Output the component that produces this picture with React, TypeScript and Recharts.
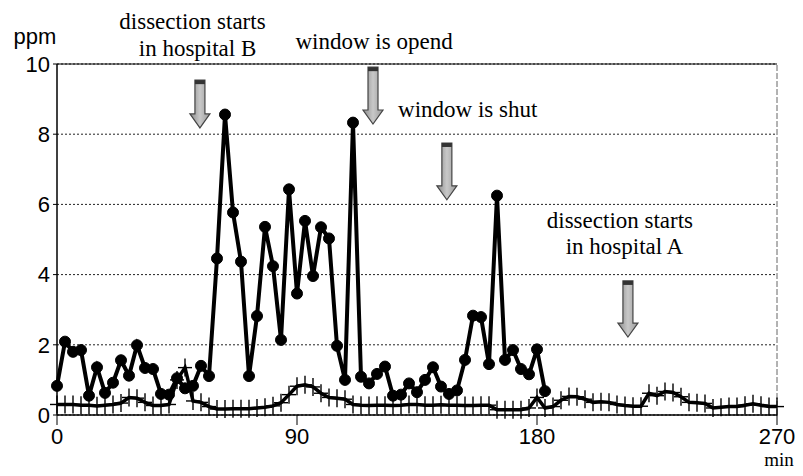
import React from "react";
import {
  CartesianGrid,
  Line,
  LineChart,
  ReferenceDot,
  ReferenceLine,
  XAxis,
  YAxis,
} from "recharts";

// tiempo de medicion (min)
const minutos = [
  0, 3, 6, 9, 12, 15, 18, 21, 24, 27, 30, 33, 36, 39, 42, 45, 48, 51, 54, 57,
  60, 63, 66, 69, 72, 75, 78, 81, 84, 87, 90, 93, 96, 99, 102, 105, 108, 111,
  114, 117, 120, 123, 126, 129, 132, 135, 138, 141, 144, 147, 150, 153, 156,
  159, 162, 165, 168, 171, 174, 177, 180, 183, 186, 189, 192, 195, 198, 201,
  204, 207, 210, 213, 216, 219, 222, 225, 228, 231, 234, 237, 240, 243, 246,
  249, 252, 255, 258, 261, 264, 267, 270,
];

// serie con circulos (hasta 183 min)
const serieCirculos = [
  0.83, 2.09, 1.8, 1.85, 0.55, 1.36, 0.63, 0.92, 1.56, 1.12, 1.99, 1.34, 1.31,
  0.6, 0.58, 1.05, 0.76, 0.83, 1.4, 1.11, 4.46, 8.56, 5.77, 4.37, 1.11, 2.82,
  5.36, 4.24, 2.14, 6.43, 3.46, 5.53, 3.96, 5.35, 5.03, 1.97, 1.0, 8.33, 1.09,
  0.9, 1.17, 1.38, 0.55, 0.58, 0.9, 0.65, 1.0, 1.36, 0.81, 0.6, 0.7, 1.57,
  2.83, 2.79, 1.45, 6.25, 1.57, 1.85, 1.31, 1.16, 1.87, 0.68,
];

// serie con cruces (0 - 270 min)
const serieCruces = [
  0.3, 0.3, 0.3, 0.28, 0.28, 0.26, 0.28, 0.3, 0.34, 0.5, 0.48, 0.36, 0.27,
  0.27, 0.3, 1.0, 1.35, 0.4, 0.36, 0.24, 0.17, 0.17, 0.18, 0.18, 0.18, 0.2,
  0.22, 0.26, 0.35, 0.58, 0.82, 0.86, 0.8, 0.62, 0.5, 0.48, 0.45, 0.3, 0.28,
  0.27, 0.28, 0.28, 0.27, 0.28, 0.3, 0.3, 0.28, 0.28, 0.29, 0.28, 0.28, 0.27,
  0.27, 0.28, 0.28, 0.15, 0.15, 0.15, 0.15, 0.2, 0.5, 0.2, 0.24, 0.42, 0.53,
  0.52, 0.45, 0.36, 0.38, 0.36, 0.3, 0.27, 0.25, 0.25, 0.62, 0.55, 0.67, 0.64,
  0.52, 0.36, 0.35, 0.33, 0.2, 0.22, 0.24, 0.24, 0.28, 0.32, 0.28, 0.24, 0.24,
];

const ticksX = [0, 90, 180, 270];
const ticksY = [0, 2, 4, 6, 8, 10];

// textos de anotacion (en unidades del grafico)
const notas = [
  { x: 50.8, y: 11.0, texto: "dissection starts", anchor: "middle" },
  { x: 52.7, y: 10.23, texto: "in hospital B", anchor: "middle" },
  { x: 118.9, y: 10.43, texto: "window is opend", anchor: "middle" },
  { x: 127.9, y: 8.49, texto: "window is shut", anchor: "start" },
  { x: 211.1, y: 5.32, texto: "dissection starts", anchor: "middle" },
  { x: 212.8, y: 4.6, texto: "in hospital A", anchor: "middle" },
];

// flechas: desde arriba hasta la punta
const flechas = [
  { x: 53.6, arriba: 9.54, punta: 8.18 },
  { x: 118.5, arriba: 9.91, punta: 8.29 },
  { x: 146.2, arriba: 7.75, punta: 6.13 },
  { x: 214.1, arriba: 3.82, punta: 2.22 },
];

const datos = minutos.map((t, i) => ({
  t,
  circulos: i < serieCirculos.length ? serieCirculos[i] : undefined,
  cruces: serieCruces[i],
}));

const sans = "'Liberation Sans', Arial, sans-serif";
const serif = "'Liberation Serif', 'Times New Roman', serif";

const Cruz = (props: any) => {
  const { cx, cy, index } = props;
  if (cx == null || cy == null) return null;
  return (
    <g key={`cruz-${index}`}>
      <line x1={cx} y1={cy - 9} x2={cx} y2={cy + 9} stroke="#000" strokeWidth={1.4} />
      <line x1={cx - 7} y1={cy} x2={cx + 7} y2={cy} stroke="#000" strokeWidth={1.4} />
    </g>
  );
};

const Flecha = (props: any) => {
  const { x1, y1, y2 } = props;
  if (x1 == null) return null;
  const top = Math.min(y1, y2);
  const tip = Math.max(y1, y2);
  const cx = x1;
  const pts = [
    [cx - 5, top],
    [cx + 5, top],
    [cx + 5, tip - 14],
    [cx + 10, tip - 14],
    [cx, tip],
    [cx - 10, tip - 14],
    [cx - 5, tip - 14],
  ]
    .map((p) => p.join(","))
    .join(" ");
  return (
    <g>
      <polygon points={pts} fill="url(#grisFlecha)" stroke="#444" strokeWidth={1.2} />
      <rect x={cx - 5} y={top} width={10} height={4} fill="#333" />
    </g>
  );
};

const Nota = (texto: string, anchor: string) => (props: any) => {
  const { cx, cy } = props;
  if (cx == null) return null;
  return (
    <text x={cx} y={cy} textAnchor={anchor} fontFamily={serif} fontSize={23} fill="#000">
      {texto}
    </text>
  );
};

export default function App() {
  return (
    <div style={{ width: 795, height: 468 }}>
      <LineChart
        width={795}
        height={468}
        data={datos}
        margin={{ top: 56, right: 26, left: 0, bottom: 21 }}
        style={{ overflow: "visible" }}
      >
        <defs>
          <linearGradient id="grisFlecha" x1="0" y1="0" x2="1" y2="0">
            <stop offset="0%" stopColor="#8a8a8a" />
            <stop offset="50%" stopColor="#c8c8c8" />
            <stop offset="100%" stopColor="#9a9a9a" />
          </linearGradient>
        </defs>
        <CartesianGrid vertical={false} stroke="#222" strokeDasharray="2 2" />
        <XAxis
          dataKey="t"
          type="number"
          domain={[0, 270]}
          ticks={ticksX}
          height={40}
          tickSize={10}
          tickMargin={3}
          axisLine={{ stroke: "#000", strokeWidth: 1.5 }}
          tickLine={{ stroke: "#000" }}
          tick={{ fill: "#000", fontSize: 22, fontFamily: sans }}
          label={{
            value: "min",
            content: ({ viewBox }: any) => (
              <text
                x={viewBox.x + viewBox.width + 2}
                y={viewBox.y + 51}
                textAnchor="middle"
                fontFamily={serif}
                fontSize={19}
                fill="#000"
              >
                min
              </text>
            ),
          }}
        />
        <YAxis
          type="number"
          domain={[0, 10]}
          ticks={ticksY}
          width={49}
          tickSize={4}
          tickMargin={3}
          axisLine={{ stroke: "#000", strokeWidth: 1.5 }}
          tickLine={{ stroke: "#000" }}
          tick={{ fill: "#000", fontSize: 22, fontFamily: sans }}
          label={{
            value: "ppm",
            content: ({ viewBox }: any) => (
              <text
                x={viewBox.x + 27}
                y={viewBox.y - 20}
                textAnchor="middle"
                fontFamily={sans}
                fontSize={22}
                fill="#000"
              >
                ppm
              </text>
            ),
          }}
        />
        <ReferenceLine y={10} stroke="#000" strokeWidth={1.2} />
        <ReferenceLine x={270} stroke="#666" strokeDasharray="6 2" />
        <Line
          dataKey="cruces"
          type="linear"
          stroke="#000"
          strokeWidth={3.5}
          dot={Cruz}
          activeDot={false}
          isAnimationActive={false}
        />
        <Line
          dataKey="circulos"
          type="linear"
          stroke="#000"
          strokeWidth={4}
          dot={{ r: 5.5, fill: "#000", stroke: "#000", strokeWidth: 1 }}
          activeDot={false}
          isAnimationActive={false}
        />
        {flechas.map((f, i) => (
          <ReferenceLine
            key={`f${i}`}
            segment={[
              { x: f.x, y: f.arriba },
              { x: f.x, y: f.punta },
            ]}
            ifOverflow="visible"
            shape={Flecha}
          />
        ))}
        {notas.map((n, i) => (
          <ReferenceDot
            key={`n${i}`}
            x={n.x}
            y={n.y}
            r={0}
            ifOverflow="visible"
            shape={Nota(n.texto, n.anchor)}
          />
        ))}
      </LineChart>
    </div>
  );
}
